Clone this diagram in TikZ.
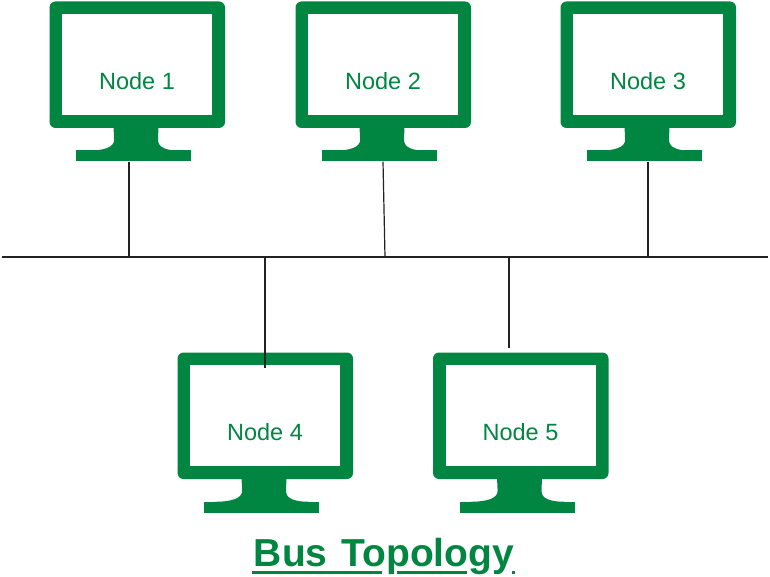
\documentclass[tikz,border=0pt]{standalone}
\usepackage{fontspec}
\setmainfont{Liberation Sans}
\usetikzlibrary{positioning}
\definecolor{monitorgreen}{HTML}{008641}
\definecolor{wirecolor}{HTML}{222222}
\newcommand{\monitor}[4]{%
  \begin{scope}[shift={(#2,#3)}]
    \node[body] (#1body) at (87.75,63.25) {};
    \node[screen] (#1screen) at (87.75,63.25) {};
    \node[nodetext] (#1text) at (87.5,88) {#4};
    \node[base] (#1base) at (84,154.5) {};
    \fill[monitorgreen] (64,125) -- (64.6,138) .. controls (65,146) and (54,149.3) .. (36,149.3)
      -- (132,149.3) .. controls (117,149.3) and (108,146) .. (108.6,138)
      -- (108.9,125) -- cycle;
  \end{scope}}

\begin{document}
\begin{tikzpicture}[
  x=1pt, y=-1pt,
  body/.style={fill=monitorgreen, rounded corners=6pt, inner sep=0pt,
    minimum width=175.5pt, minimum height=126.5pt},
  screen/.style={fill=white, inner sep=0pt,
    minimum width=150pt, minimum height=101pt},
  base/.style={fill=monitorgreen, inner sep=0pt,
    minimum width=115pt, minimum height=11pt},
  nodetext/.style={anchor=base, text=monitorgreen, inner sep=0pt,
    font=\fontsize{23.5}{27}\selectfont},
  wire/.style={draw=wirecolor, line width=1.2pt},
  titleline/.style={draw=monitorgreen, line width=2.5pt}
]
  \useasboundingbox (0,0) rectangle (770,577);

  \monitor{one}{49.5}{1.5}{Node 1}
  \monitor{two}{295.5}{1.5}{Node 2}
  \monitor{three}{560.5}{1.5}{Node 3}
  \monitor{four}{177.5}{352.5}{Node 4}
  \monitor{five}{433}{352.5}{Node 5}

  \coordinate (busleft) at (2,257);
  \coordinate (busright) at (768,257);
  \coordinate (tapone) at (129,257);
  \coordinate (taptwo) at (385,257);
  \coordinate (tapthree) at (648,257);
  \coordinate (tapfour) at (265,257);
  \coordinate (tapfive) at (509,257);

  \draw[wire] (busleft) -- (busright);
  \draw[wire] (onebase.south -| tapone) -- (tapone);
  \draw[wire] ([xshift=3.5pt]twobase.south) -- (taptwo);
  \draw[wire] (threebase.south -| tapthree) -- (tapthree);
  \draw[wire] (tapfour) -- ([yshift=-3pt]fourscreen.north -| tapfour);
  \draw[wire] (tapfive) -- ([yshift=4pt]fivebody.north -| tapfive);

  \node[anchor=base, inner sep=0pt, text=monitorgreen,
    font=\fontsize{39}{44}\bfseries\selectfont] (title) at (384,566.5) {Bus\hspace{3pt} Topology};
  \draw[titleline] ([yshift=-6pt]title.base -| 252,0) -- ([yshift=-6pt]title.base -| 382,0);
  \draw[titleline] ([yshift=-6pt]title.base -| 397,0) -- ([yshift=-6pt]title.base -| 467,0);
  \draw[titleline] ([yshift=-6pt]title.base -| 511.5,0) -- ([yshift=-6pt]title.base -| 515,0);
\end{tikzpicture}
\end{document}
